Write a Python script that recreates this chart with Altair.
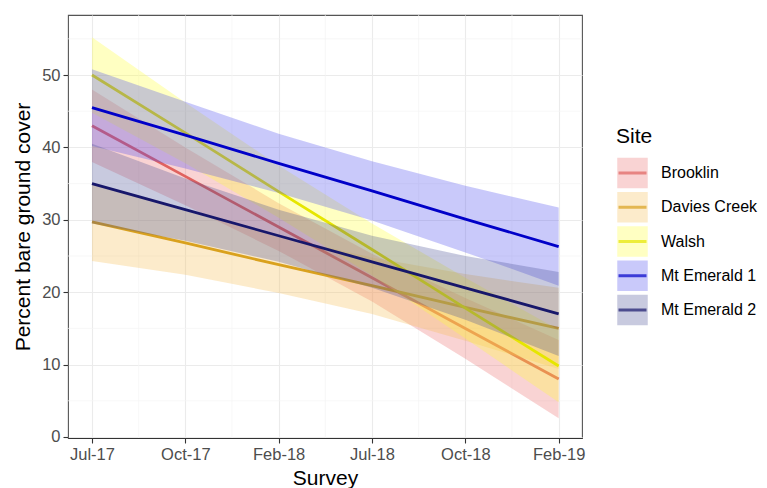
import altair as alt
import pandas as pd

# ---- data ----
sites = ["Brooklin", "Davies Creek", "Walsh", "Mt Emerald 1", "Mt Emerald 2"]
survey_labels = ["Jul-17", "Oct-17", "Feb-18", "Jul-18", "Oct-18", "Feb-19"]
survey_pos = [0, 1, 2, 3, 4, 5]

fit_brooklin = [43.0, 36.0, 29.0, 22.0, 15.0, 8.0]
lo_brooklin = [38.0, 32.0, 25.7, 18.7, 10.8, 2.6]
hi_brooklin = [48.0, 40.0, 32.3, 25.3, 19.2, 13.4]

fit_davies = [29.7, 26.8, 23.8, 20.9, 17.9, 15.0]
lo_davies = [24.3, 22.4, 19.9, 17.0, 13.3, 9.4]
hi_davies = [35.1, 31.2, 27.7, 24.8, 22.5, 20.6]

fit_walsh = [50.0, 42.0, 33.9, 25.9, 17.8, 9.8]
lo_walsh = [44.8, 37.8, 30.3, 22.3, 13.6, 4.8]
hi_walsh = [55.2, 46.2, 37.5, 29.5, 22.0, 14.8]

fit_me1 = [45.5, 41.7, 37.8, 34.0, 30.1, 26.3]
lo_me1 = [40.2, 37.1, 33.7, 29.9, 25.5, 20.9]
hi_me1 = [50.8, 46.3, 41.9, 38.1, 34.7, 31.7]

fit_me2 = [35.0, 31.4, 27.8, 24.2, 20.6, 17.0]
lo_me2 = [29.5, 27.1, 24.2, 20.6, 16.2, 11.2]
hi_me2 = [40.5, 35.7, 31.4, 27.8, 25.0, 22.8]

line_colors = ["#E0625F", "#D9A11E", "#E6E600", "#0000C8", "#17176B"]
ribbon_colors = ["#EB6C6C", "#F5BC52", "#FFFF34", "#4B4BEE", "#484E94"]

y_major = [0, 10, 20, 30, 40, 50]
y_minor = [5, 15, 25, 35, 45, 55]
x_minor = [0.5, 1.5, 2.5, 3.5, 4.5]

fits = [fit_brooklin, fit_davies, fit_walsh, fit_me1, fit_me2]
los = [lo_brooklin, lo_davies, lo_walsh, lo_me1, lo_me2]
his = [hi_brooklin, hi_davies, hi_walsh, hi_me1, hi_me2]

FONT = "Liberation Sans"

xscale = alt.Scale(domain=[-0.257, 5.25], nice=False, zero=False)
yscale = alt.Scale(domain=[-0.14, 58.29], nice=False, zero=False)

label_expr = "[" + ",".join("'%s'" % s for s in survey_labels) + "][datum.value]"

x_axis = alt.Axis(values=survey_pos, labelExpr=label_expr, title="Survey",
                  grid=True, gridColor="#EBEBEB", gridWidth=1.1,
                  tickSize=5, tickColor="#333333", tickWidth=1.1,
                  labelPadding=3, labelFontSize=16.5, labelColor="#4D4D4D",
                  labelFont=FONT, titleFont=FONT, titleFontSize=21,
                  titleFontWeight="normal", titleColor="#000000",
                  titlePadding=5, domainColor="#333333", domainWidth=1.2,
                  labelFlush=False)
y_axis = alt.Axis(values=y_major, title="Percent bare ground cover",
                  grid=True, gridColor="#EBEBEB", gridWidth=1.1,
                  tickSize=5, tickColor="#333333", tickWidth=1.1,
                  labelPadding=3, labelFontSize=16.5, labelColor="#4D4D4D",
                  labelFont=FONT, titleFont=FONT, titleFontSize=21,
                  titleFontWeight="normal", titleColor="#000000",
                  titlePadding=8, domain=False)

minor_x_df = pd.DataFrame({"v": x_minor})
minor_y_df = pd.DataFrame({"v": y_minor})

base_rule_x = alt.Chart(minor_x_df).mark_rule(color="#F4F4F4", strokeWidth=0.7).encode(
    x=alt.X("v:Q", scale=xscale, axis=x_axis))
base_rule_y = alt.Chart(minor_y_df).mark_rule(color="#F4F4F4", strokeWidth=0.7).encode(
    y=alt.Y("v:Q", scale=yscale, axis=y_axis))

layers = [base_rule_x, base_rule_y]
for i, site in enumerate(sites):
    df = pd.DataFrame({"pos": survey_pos, "fit": fits[i], "lo": los[i], "hi": his[i]})
    area = alt.Chart(df).mark_area(opacity=0.3, fill=ribbon_colors[i]).encode(
        x=alt.X("pos:Q", scale=xscale, axis=x_axis),
        y=alt.Y("lo:Q", scale=yscale, axis=y_axis),
        y2="hi:Q")
    line = alt.Chart(df).mark_line(color=line_colors[i], strokeWidth=2.8).encode(
        x=alt.X("pos:Q", scale=xscale, axis=x_axis),
        y=alt.Y("fit:Q", scale=yscale, axis=y_axis))
    layers += [area, line]

main = alt.layer(*layers).properties(
    width=514, height=423,
    view=alt.ViewBackground(stroke="#555555", strokeWidth=1.1))

# ---- manual legend ----
leg_df = pd.DataFrame({"Site": sites, "fillc": ribbon_colors, "linec": line_colors})
yleg = alt.Y("Site:N", scale=alt.Scale(type="point", domain=sites, range=[158, 295], padding=0),
             axis=None)

boxes = alt.Chart(leg_df).mark_square(size=930, opacity=0.3).encode(
    x=alt.value(30.5), y=yleg, color=alt.Color("fillc:N", scale=None))
ticks = alt.Chart(leg_df).mark_tick(orient="horizontal", size=28, thickness=3).encode(
    x=alt.value(30.5), y=yleg, color=alt.Color("linec:N", scale=None))
texts = alt.Chart(leg_df).mark_text(align="left", baseline="middle", fontSize=16,
                                    font=FONT, color="#000000").encode(
    x=alt.value(59), y=yleg, text="Site:N")
title_df = pd.DataFrame({"t": ["Site"]})
title = alt.Chart(title_df).mark_text(align="left", baseline="middle", fontSize=21,
                                      font=FONT, color="#000000").encode(
    x=alt.value(14), y=alt.value(122), text="t:N")

legend = alt.layer(boxes, ticks, texts, title).properties(
    width=150, height=423,
    view=alt.ViewBackground(stroke="transparent"))

chart = alt.hconcat(main, legend, spacing=15).properties(
    padding={"left": 12, "top": 14, "right": 0, "bottom": 0}
).configure_view(stroke="transparent").configure(background="white")

chart.save("out.html", embed_options={"renderer": "svg", "actions": False})
